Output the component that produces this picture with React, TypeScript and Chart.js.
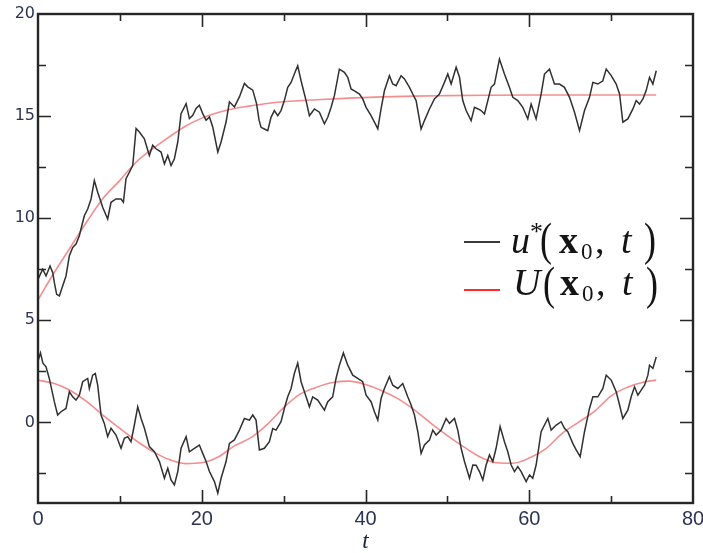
import React, { useEffect, useRef } from "react";
import { Chart, registerables } from "chart.js";

Chart.register(...registerables);

// ---- axis ranges and tick labels ----
const X_MIN = 0;
const X_MAX = 80;
const Y_MIN = -3.95;
const Y_MAX = 20;
const xTickLabels = [0, 20, 40, 60, 80];
const yTickLabels = [0, 5, 10, 15, 20];
const xAxisTitle = "t";
const seriesNames = ["u*(x0, t)", "U(x0, t)"];

// ---- noisy solution u*(x0,t): upper (first component) [t, value] ----
const uStarUpper: [number, number][] = [
  [0, 7.0], [0.57, 7.5], [0.98, 7.17], [1.47, 7.66], [1.79, 7.34], [2.0, 6.84], [2.28, 6.27], [2.61, 6.19], [3.01, 6.68], [3.42, 7.17],
  [3.83, 8.16], [4.24, 8.57], [4.64, 8.73], [5.05, 9.14], [5.25, 9.47], [5.66, 10.12], [6.07, 10.45], [6.48, 10.94], [6.88, 11.84], [7.29, 11.27],
  [7.7, 10.78], [7.9, 10.53], [8.51, 9.96], [8.92, 10.78], [9.53, 10.94], [10.14, 10.94], [10.43, 10.78], [10.75, 11.93], [11.16, 12.25], [11.57, 12.58],
  [11.98, 14.39], [12.38, 14.22], [12.99, 13.89], [13.6, 13.07], [14.01, 13.57], [14.42, 13.4], [15.03, 13.24], [15.44, 12.66], [15.85, 13.07], [16.25, 12.58],
  [16.66, 12.91], [17.07, 13.73], [17.47, 15.12], [18.09, 15.61], [18.49, 14.88], [18.9, 15.04], [19.31, 15.37], [19.71, 15.53], [20.12, 15.12], [20.53, 14.8],
  [20.94, 14.96], [21.34, 14.47], [21.96, 13.24], [22.36, 13.73], [22.97, 14.71], [23.38, 15.7], [23.99, 15.45], [24.6, 15.94], [25.21, 16.6], [25.62, 16.43],
  [26.23, 16.27], [26.7, 15.6], [27.0, 14.8], [27.24, 14.45], [27.65, 14.37], [28.06, 14.29], [28.46, 14.94], [28.87, 15.27], [29.28, 15.02], [29.68, 15.27],
  [30.09, 15.76], [30.5, 16.41], [30.91, 16.65], [31.31, 17.06], [31.72, 17.47], [32.13, 16.73], [32.74, 15.76], [33.15, 15.02], [33.76, 15.35], [34.37, 15.19],
  [34.98, 14.62], [35.39, 14.94], [35.8, 15.43], [36.2, 16.0], [36.81, 17.3], [37.42, 17.14], [37.83, 16.9], [38.24, 16.33], [38.65, 16.24], [39.26, 16.08],
  [39.66, 15.84], [40.07, 15.43], [40.68, 15.02], [41.09, 14.7], [41.5, 14.37], [41.9, 15.35], [42.31, 16.24], [42.92, 16.98], [43.33, 16.57], [43.74, 16.49],
  [44.35, 16.98], [44.76, 16.82], [45.37, 16.41], [45.77, 16.08], [46.18, 15.76], [46.79, 14.37], [47.2, 14.78], [47.81, 15.35], [48.42, 15.84], [49.03, 16.08],
  [49.64, 16.65], [50.05, 17.06], [50.46, 16.57], [51.07, 17.39], [51.48, 16.9], [51.88, 15.76], [52.29, 15.27], [52.9, 14.78], [53.31, 15.43], [53.76, 15.35],
  [54.12, 15.27], [54.53, 15.1], [54.94, 15.76], [55.34, 16.41], [55.75, 16.57], [56.36, 17.79], [56.97, 17.06], [57.58, 16.41], [57.99, 15.92], [58.6, 15.76],
  [59.21, 15.43], [59.82, 14.86], [60.23, 15.59], [60.84, 14.86], [61.45, 16.08], [61.86, 17.06], [62.47, 17.3], [63.08, 16.57], [63.69, 16.57], [64.3, 16.41],
  [64.92, 15.92], [65.53, 15.19], [66.14, 14.29], [66.75, 15.27], [67.36, 15.92], [67.77, 16.65], [68.38, 16.57], [68.99, 16.73], [69.4, 17.3], [70.01, 16.98],
  [70.62, 16.57], [71.03, 16.08], [71.43, 14.7], [72.04, 14.86], [72.66, 15.35], [73.06, 15.76], [73.47, 15.59], [73.88, 15.84], [74.28, 16.25], [74.69, 16.9],
  [75.1, 16.57], [75.51, 17.22],
];

// ---- noisy solution u*(x0,t): lower (second component) [t, value] ----
const uStarLower: [number, number][] = [
  [0, 3.0], [0.3, 3.4], [0.6, 2.9], [0.98, 2.72], [1.38, 2.15], [2.0, 1.0], [2.4, 0.36], [2.81, 0.52], [3.42, 0.68], [3.83, 1.5],
  [4.24, 1.25], [4.64, 1.09], [5.05, 1.33], [5.46, 1.99], [6.07, 2.15], [6.27, 1.66], [6.68, 2.31], [7.0, 2.39], [7.29, 1.82], [7.7, 0.36],
  [8.1, -0.05], [8.51, -0.7], [8.92, -0.29], [9.53, -0.62], [10.14, -1.27], [10.55, -0.78], [10.96, -0.7], [11.36, -0.95], [11.77, -0.13], [12.18, 0.76],
  [12.59, 0.19], [13.0, -0.29], [13.6, -1.19], [14.22, -1.44], [14.83, -1.92], [15.44, -2.74], [15.85, -2.25], [16.25, -2.82], [16.66, -3.07], [17.07, -2.41],
  [17.47, -1.27], [18.09, -0.7], [18.49, -1.44], [19.1, -1.27], [19.71, -1.11], [20.12, -1.52], [20.53, -1.92], [20.94, -2.41], [21.55, -2.9], [21.96, -3.47],
  [22.36, -2.74], [22.97, -1.92], [23.38, -1.03], [23.99, -0.86], [24.6, -0.38], [25.21, 0.19], [25.82, 0.11], [26.23, 0.36], [26.63, 0.11], [27.04, -1.35],
  [27.65, -1.27], [28.26, -0.95], [28.67, -0.3], [29.07, -0.38], [29.68, 0.03], [30.09, 0.68], [30.5, 1.25], [30.91, 1.66], [31.31, 2.39], [31.72, 2.9],
  [32.13, 1.99], [32.54, 1.5], [33.15, 0.76], [33.55, 1.25], [34.17, 1.09], [34.98, 0.6], [35.39, 1.01], [35.99, 1.25], [36.4, 2.15], [36.81, 2.8],
  [37.3, 3.4], [37.83, 2.8], [38.44, 2.31], [39.05, 2.15], [39.66, 1.99], [40.07, 1.33], [40.68, 1.01], [41.09, 0.52], [41.5, 0.11], [41.9, 1.17],
  [42.31, 1.66], [42.92, 2.23], [43.33, 1.82], [43.94, 1.66], [44.55, 1.9], [45.16, 1.25], [45.57, 0.85], [45.98, 0.36], [46.39, -0.46], [46.79, -1.52],
  [47.2, -1.11], [47.81, -0.87], [48.22, -0.38], [48.63, -0.62], [49.24, -0.38], [49.85, 0.19], [50.26, -0.05], [50.87, 0.19], [51.27, -0.38], [51.68, -1.27],
  [52.09, -1.92], [52.7, -2.74], [53.11, -2.09], [53.51, -2.1], [53.92, -2.41], [54.33, -2.82], [54.73, -2.09], [55.14, -1.6], [55.55, -1.92], [55.95, -1.27],
  [56.44, -0.21], [56.97, -0.95], [57.38, -1.44], [57.79, -2.09], [58.2, -2.41], [58.6, -2.17], [59.01, -2.41], [59.62, -2.9], [60.03, -2.58], [60.43, -2.74],
  [60.84, -2.09], [61.45, -0.46], [61.86, -0.13], [62.27, 0.19], [62.68, -0.38], [63.29, -0.13], [63.9, 0.03], [64.3, -0.29], [64.71, -0.46], [65.32, -1.03],
  [65.73, -1.35], [66.22, -1.68], [66.75, -0.46], [67.36, 0.68], [67.77, 1.25], [68.38, 1.25], [68.99, 1.66], [69.4, 2.31], [70.01, 2.07], [70.62, 1.5],
  [71.03, 0.85], [71.43, 0.19], [72.04, 0.6], [72.45, 1.25], [72.86, 1.74], [73.27, 1.33], [73.67, 1.58], [74.08, 1.82], [74.49, 2.31], [74.69, 2.8],
  [75.1, 2.64], [75.51, 3.2],
];

// ---- deterministic solution U(x0,t) [t, value] ----
const bigUUpper: [number, number][] = [
  [0, 6.0], [2, 7.35], [4, 8.6], [6, 9.85], [8, 11.0], [10, 11.85], [12, 12.75], [14, 13.4], [16, 13.97], [18, 14.5],
  [20, 14.9], [22, 15.18], [24, 15.37], [26, 15.5], [28, 15.62], [30, 15.7], [34, 15.8], [38, 15.88], [42, 15.94], [46, 15.98],
  [50, 16.0], [55, 16.02], [60, 16.03], [65, 16.03], [70, 16.03], [75.5, 16.03],
];
const bigULower: [number, number][] = [
  [0, 2.07], [2, 1.9], [4, 1.55], [6, 1.0], [8, 0.33], [10, -0.3], [12, -0.9], [14, -1.42], [16, -1.82], [18, -2.02],
  [20, -1.98], [22, -1.7], [24, -1.15], [26, -0.75], [28, -0.1], [30, 0.72], [32, 1.38], [34, 1.72], [36, 1.95], [38, 2.02],
  [40, 1.85], [42, 1.55], [44, 1.15], [46, 0.6], [48, -0.05], [50, -0.65], [52, -1.2], [54, -1.7], [56, -1.98], [58, -2.0],
  [60, -1.75], [62, -1.3], [64, -0.55], [66, 0.0], [68, 0.55], [70, 1.3], [72, 1.72], [74, 1.98], [75.5, 2.07],
];

const toPoints = (arr: [number, number][]) => arr.map(([x, y]) => ({ x, y }));

const NOISY_COLOR = "#303030";
const SMOOTH_COLOR = "rgba(240, 80, 80, 0.65)";
const LABEL_COLOR = "#2b3453";
const FRAME_COLOR = "#262626";

const framePlugin = {
  id: "frameTicks",
  afterDatasetsDraw(chart: any) {
    const { ctx, chartArea: a, scales } = chart;
    ctx.save();
    ctx.strokeStyle = FRAME_COLOR;
    ctx.lineWidth = 1.6;
    const xs = scales.x;
    const ys = scales.y;
    for (const t of xs.ticks) {
      const v = t.value;
      if (v <= X_MIN || v >= X_MAX) continue;
      const px = Math.round(xs.getPixelForValue(v)) + 0.5;
      const len = xTickLabels.includes(v) ? 13 : 7;
      ctx.beginPath();
      ctx.moveTo(px, a.bottom);
      ctx.lineTo(px, a.bottom - len);
      ctx.moveTo(px, a.top);
      ctx.lineTo(px, a.top + len);
      ctx.stroke();
    }
    for (const t of ys.ticks) {
      const v = t.value;
      if (v <= Y_MIN || v >= Y_MAX) continue;
      const py = Math.round(ys.getPixelForValue(v)) + 0.5;
      const len = yTickLabels.includes(v) ? 13 : 8;
      ctx.beginPath();
      ctx.moveTo(a.left, py);
      ctx.lineTo(a.left + len, py);
      ctx.moveTo(a.right, py);
      ctx.lineTo(a.right - len, py);
      ctx.stroke();
    }
    ctx.lineWidth = 2.4;
    ctx.strokeRect(a.left, a.top, a.right - a.left, a.bottom - a.top);
    ctx.restore();
  },
};

const SERIF = '"Liberation Serif", "DejaVu Serif", serif';
type Piece = { t: string; font: string; x: number; dy: number; sy?: number };
const legendRows: { color: string; y: number; baseline: number; pieces: Piece[] }[] = [
  {
    color: "#3a3a3a",
    y: 242,
    baseline: 253,
    pieces: [
      { t: "u", font: `italic 38px ${SERIF}`, x: 511, dy: 0 },
      { t: "*", font: `26px ${SERIF}`, x: 530, dy: -13 },
      { t: "(", font: `36px ${SERIF}`, x: 540, dy: 2, sy: 1.3 },
      { t: "x", font: `bold 38px ${SERIF}`, x: 559, dy: 0 },
      { t: "0", font: `23px ${SERIF}`, x: 581, dy: 6 },
      { t: ",", font: `38px ${SERIF}`, x: 595, dy: 0 },
      { t: "t", font: `italic 38px ${SERIF}`, x: 621, dy: 0 },
      { t: ")", font: `36px ${SERIF}`, x: 644, dy: 2, sy: 1.3 },
    ],
  },
  {
    color: "#ff2a2a",
    y: 290,
    baseline: 295,
    pieces: [
      { t: "U", font: `italic 38px ${SERIF}`, x: 513, dy: 0 },
      { t: "(", font: `36px ${SERIF}`, x: 543, dy: 4, sy: 1.3 },
      { t: "x", font: `bold 38px ${SERIF}`, x: 560, dy: 0 },
      { t: "0", font: `23px ${SERIF}`, x: 582, dy: 6 },
      { t: ",", font: `38px ${SERIF}`, x: 596, dy: 0 },
      { t: "t", font: `italic 38px ${SERIF}`, x: 622, dy: 0 },
      { t: ")", font: `36px ${SERIF}`, x: 646, dy: 4, sy: 1.3 },
    ],
  },
];

const legendPlugin = {
  id: "mathLegend",
  afterDraw(chart: any) {
    const { ctx } = chart;
    ctx.save();
    for (const row of legendRows) {
      ctx.strokeStyle = row.color;
      ctx.lineWidth = 2;
      ctx.beginPath();
      ctx.moveTo(464, row.y);
      ctx.lineTo(500, row.y);
      ctx.stroke();
      ctx.fillStyle = "#141414";
      ctx.textBaseline = "alphabetic";
      ctx.textAlign = "left";
      for (const p of row.pieces) {
        ctx.font = p.font;
        const by = row.baseline + p.dy;
        if (p.sy) {
          ctx.save();
          ctx.translate(p.x, by);
          ctx.scale(1, p.sy);
          ctx.fillText(p.t, 0, 0);
          ctx.restore();
        } else {
          ctx.fillText(p.t, p.x, by);
        }
      }
    }
    ctx.restore();
  },
};

export default function App() {
  const canvasRef = useRef<HTMLCanvasElement | null>(null);

  useEffect(() => {
    if (!canvasRef.current) return;
    const chart = new Chart(canvasRef.current, {
      type: "line",
      data: {
        datasets: [
          {
            label: seriesNames[0],
            data: toPoints(uStarUpper),
            borderColor: NOISY_COLOR,
            borderWidth: 1.5,
            pointRadius: 0,
            tension: 0,
            order: 1,
          },
          {
            label: seriesNames[0],
            data: toPoints(uStarLower),
            borderColor: NOISY_COLOR,
            borderWidth: 1.5,
            pointRadius: 0,
            tension: 0,
            order: 1,
          },
          {
            label: seriesNames[1],
            data: toPoints(bigUUpper),
            borderColor: SMOOTH_COLOR,
            borderWidth: 1.6,
            pointRadius: 0,
            cubicInterpolationMode: "monotone",
            order: 2,
          },
          {
            label: seriesNames[1],
            data: toPoints(bigULower),
            borderColor: SMOOTH_COLOR,
            borderWidth: 1.6,
            pointRadius: 0,
            cubicInterpolationMode: "monotone",
            order: 2,
          },
        ],
      },
      options: {
        animation: false,
        responsive: false,
        devicePixelRatio: 1,
        layout: { padding: { top: 14, right: 10, left: 0, bottom: 0 } },
        plugins: {
          legend: { display: false },
          tooltip: { enabled: false },
        },
        scales: {
          x: {
            type: "linear",
            min: X_MIN,
            max: X_MAX,
            grid: { display: false, drawTicks: false },
            border: { display: false },
            ticks: {
              stepSize: 10,
              autoSkip: false,
              maxRotation: 0,
              padding: 4,
              color: LABEL_COLOR,
              font: { family: '"Liberation Sans", Arial, sans-serif', size: 20 },
              callback: (v: any) => (xTickLabels.includes(Number(v)) ? String(v) : ""),
            },
            title: {
              display: true,
              text: xAxisTitle,
              color: "#1a2444",
              padding: 0,
              font: { family: SERIF, style: "italic", size: 23, lineHeight: 1 },
            },
            afterFit: (s: any) => {
              s.height = 50;
              s.paddingLeft = 0;
              s.paddingRight = 0;
            },
          },
          y: {
            type: "linear",
            min: Y_MIN,
            max: Y_MAX,
            grid: { display: false, drawTicks: false },
            border: { display: false },
            ticks: {
              stepSize: 2.5,
              includeBounds: false,
              autoSkip: false,
              padding: 3,
              color: LABEL_COLOR,
              font: { family: '"DejaVu Sans", sans-serif', size: 16 },
              callback: (v: any) => (yTickLabels.includes(Number(v)) ? String(v) : ""),
            },
            afterFit: (s: any) => {
              s.width = 38;
              s.paddingTop = 0;
              s.paddingBottom = 0;
            },
          },
        },
      },
      plugins: [framePlugin, legendPlugin],
    });
    return () => chart.destroy();
  }, []);

  return (
    <div style={{ position: "absolute", left: 0, top: 0, width: 703, height: 553, background: "#fff" }}>
      <canvas ref={canvasRef} width={703} height={553} style={{ display: "block" }} />
    </div>
  );
}
